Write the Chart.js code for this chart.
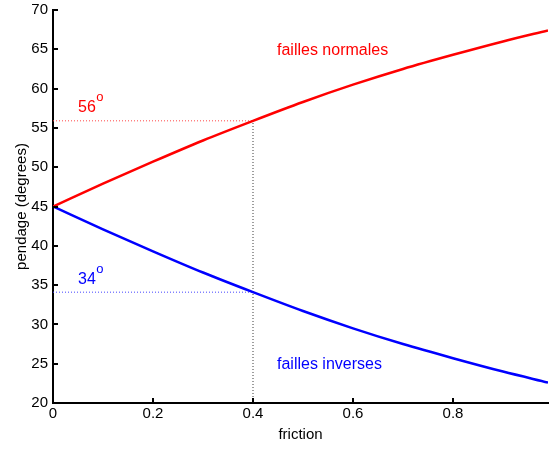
<!DOCTYPE html>
<html lang="fr">
<head>
<meta charset="UTF-8">
<title>pendage vs friction</title>
<script src="https://cdn.jsdelivr.net/npm/chart.js@4.4.1/dist/chart.umd.min.js"></script>
<style>
  body { margin: 0; background: #fff; }
</style>
</head>
<body>
<canvas id="myChart" width="549" height="449"></canvas>
<script>
    // values
    const friction = [0, 0.1, 0.2, 0.3, 0.4, 0.5, 0.6, 0.7, 0.8, 0.9, 0.99];
    const normales = [45, 47.9, 50.7, 53.4, 55.9, 58.3, 60.5, 62.5, 64.3, 66.0, 67.4];
    const inverses = [45, 42.1, 39.3, 36.6, 34.1, 31.7, 29.5, 27.5, 25.7, 24.0, 22.6];

    const refFriction = 0.4;
    const refNormale = 55.9;
    const refInverse = 34.1;

    const xTicks = [0, 0.2, 0.4, 0.6, 0.8];
    const yTicks = [20, 25, 30, 35, 40, 45, 50, 55, 60, 65, 70];

    const FONT = '"Liberation Sans", Arial, Helvetica, sans-serif';

    function toPoints(xs, ys) {
        return xs.map((x, i) => ({ x: x, y: ys[i] }));
    }

    // text labels placed in data coordinates
    const notes = [
        { text: 'failles normales', x: 0.448, y: 64.3, color: 'rgb(255,0,0)' },
        { text: 'failles inverses', x: 0.448, y: 24.35, color: 'rgb(0,0,255)' },
        { text: '56', sup: 'o', x: 0.05, y: 57.0, color: 'rgb(255,0,0)' },
        { text: '34', sup: 'o', x: 0.05, y: 35.15, color: 'rgb(0,0,255)' }
    ];

    // MATLAB style ticks pointing into the plot, plus the text labels
    const extras = {
        id: 'extras',
        afterDraw(chart) {
            const ctx = chart.ctx;
            const xs = chart.scales.x, ys = chart.scales.y;
            const area = chart.chartArea;
            ctx.save();
            ctx.strokeStyle = '#000';
            ctx.lineWidth = 2;
            ctx.beginPath();
            xTicks.forEach(v => {
                const px = Math.round(xs.getPixelForValue(v));
                ctx.moveTo(px, area.bottom);
                ctx.lineTo(px, area.bottom - 5);
            });
            yTicks.forEach(v => {
                const py = Math.round(ys.getPixelForValue(v));
                ctx.moveTo(area.left, py);
                ctx.lineTo(area.left + 5, py);
            });
            ctx.stroke();

            ctx.textBaseline = 'alphabetic';
            ctx.textAlign = 'left';
            notes.forEach(n => {
                const px = xs.getPixelForValue(n.x);
                const py = ys.getPixelForValue(n.y);
                ctx.fillStyle = n.color;
                ctx.font = '16px ' + FONT;
                ctx.fillText(n.text, px, py);
                if (n.sup) {
                    const w = ctx.measureText(n.text).width;
                    ctx.font = '13px ' + FONT;
                    ctx.fillText(n.sup, px + w + 0.5, py - 11);
                }
            });
            ctx.restore();
        }
    };

    const data = {
        datasets: [{
            label: 'failles normales',
            data: toPoints(friction, normales),
            borderColor: 'rgb(255,0,0)',
            borderWidth: 2.5,
            pointRadius: 0,
            cubicInterpolationMode: 'monotone'
        }, {
            label: 'failles inverses',
            data: toPoints(friction, inverses),
            borderColor: 'rgb(0,0,255)',
            borderWidth: 2.5,
            pointRadius: 0,
            cubicInterpolationMode: 'monotone'
        }, {
            label: 'ref normale',
            data: [{ x: 0, y: refNormale }, { x: refFriction, y: refNormale }],
            borderColor: 'rgb(255,70,70)',
            borderWidth: 1,
            borderDash: [1, 2],
            pointRadius: 0
        }, {
            label: 'ref inverse',
            data: [{ x: 0, y: refInverse }, { x: refFriction, y: refInverse }],
            borderColor: 'rgb(70,70,255)',
            borderWidth: 1,
            borderDash: [1, 2],
            pointRadius: 0
        }, {
            label: 'ref friction',
            data: [{ x: refFriction, y: 20 }, { x: refFriction, y: refNormale }],
            borderColor: 'rgb(60,60,60)',
            borderWidth: 1,
            borderDash: [1, 2],
            pointRadius: 0
        }]
    };

    const config = {
        type: 'line',
        data,
        plugins: [extras],
        options: {
            responsive: false,
            animation: false,
            layout: { padding: { top: 10, right: 1, left: 0, bottom: 0 } },
            plugins: {
                legend: { display: false },
                tooltip: { enabled: false }
            },
            scales: {
                x: {
                    type: 'linear',
                    min: 0,
                    max: 0.99,
                    afterFit(scale) {
                        scale.height = 46;
                        scale.paddingLeft = 0;
                        scale.paddingRight = 0;
                    },
                    grid: { display: false, drawTicks: false },
                    border: { display: true, color: '#000', width: 2 },
                    ticks: {
                        stepSize: 0.2,
                        includeBounds: false,
                        color: '#000',
                        padding: 2,
                        maxRotation: 0,
                        font: { family: FONT, size: 15 },
                        callback: v => (Math.round(v * 10) / 10).toString()
                    },
                    title: {
                        display: true,
                        text: 'friction',
                        color: '#000',
                        font: { family: FONT, size: 15 },
                        padding: { bottom: 5 }
                    }
                },
                y: {
                    min: 20,
                    max: 70,
                    afterFit(scale) {
                        scale.width = 53;
                        scale.paddingTop = 0;
                        scale.paddingBottom = 0;
                    },
                    grid: { display: false, drawTicks: false },
                    border: { display: true, color: '#000', width: 2 },
                    ticks: {
                        stepSize: 5,
                        color: '#000',
                        padding: 5,
                        font: { family: FONT, size: 15 }
                    },
                    title: {
                        display: true,
                        text: 'pendage (degrees)',
                        color: '#000',
                        font: { family: FONT, size: 15 },
                        padding: { top: 13 }
                    }
                }
            }
        }
    };

    var myChart = new Chart(document.getElementById('myChart'), config);
</script>
</body>
</html>
